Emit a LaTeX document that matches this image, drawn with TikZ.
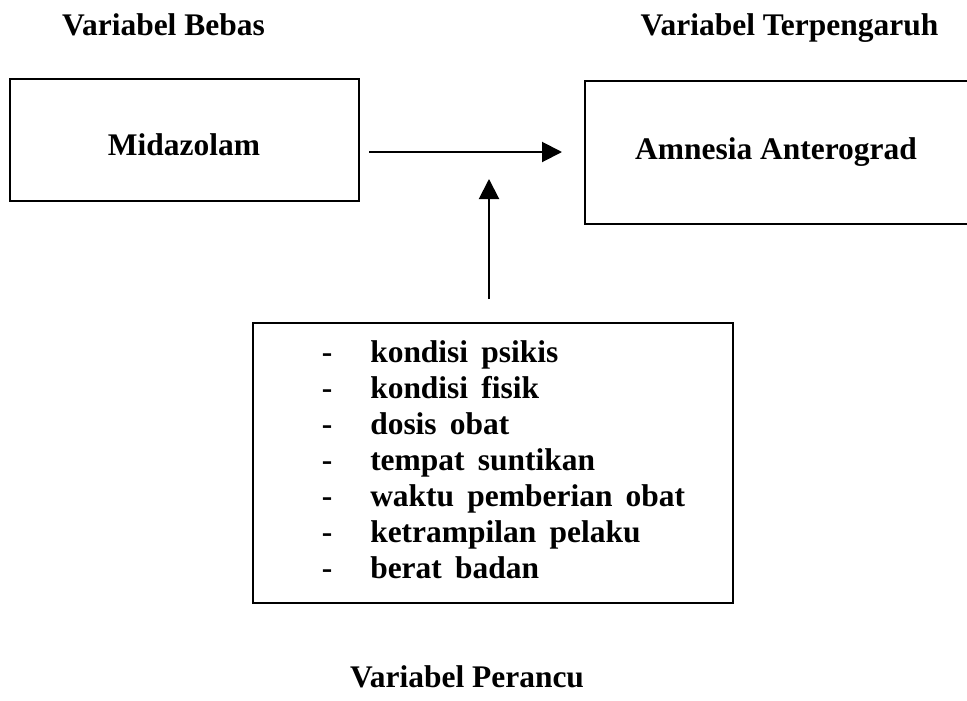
\documentclass[tikz,border=0pt]{standalone}
\usepackage{fontspec}
\setmainfont{Liberation Serif}
\usetikzlibrary{arrows.meta}
\begin{document}
\begin{tikzpicture}[x=0.75pt,y=-0.75pt,
  box/.style={draw, line width=1.5pt, inner sep=0pt},
  lbl/.style={font=\fontsize{23.6}{28}\selectfont\bfseries, inner sep=0pt, anchor=base},
  item/.style={lbl, anchor=base west},
  conn/.style={line width=1.5pt, -{Triangle[length=15pt,width=15pt]}}]
\useasboundingbox (0,0) rectangle (967,700);
\clip (0,0) rectangle (967,700);
% boxes
\node[box, minimum width=261.75pt, minimum height=91.5pt] (bebas) at (184.5,140) {};
\node[box, minimum width=303.75pt, minimum height=107.25pt] (terikat) at (787.5,152.5) {};
\node[box, minimum width=360pt, minimum height=210pt] (perancu) at (493,463) {};
% titles
\node[lbl] (tb) at (163.5,35) {Variabel Bebas};
\node[lbl] (tt) at (789.5,35) {Variabel Terpengaruh};
\node[lbl] (tp) at (467,687) {Variabel Perancu};
% box texts
\node[lbl] (tm) at (184,155) {Midazolam};
\node[lbl] (ta) at (776,159) {Amnesia Anterograd};
% list
\foreach \t [count=\i from 0] in {kondisi psikis, kondisi fisik, dosis obat, tempat suntikan, waktu pemberian obat, ketrampilan pelaku, berat badan} {
  \node[lbl] (d\i) at (327,362+36*\i) {-};
  \node[item] (f\i) at (370,362+36*\i) {\spaceskip=0.42em\relax \t};
}
% connectors
\coordinate (h1) at (369,152);
\coordinate (h2) at (562,152);
\coordinate (v1) at (489,299);
\coordinate (v2) at (489,179);
\draw[conn] (h1) -- (h2);
\draw[conn] (v1) -- (v2);
\end{tikzpicture}
\end{document}
